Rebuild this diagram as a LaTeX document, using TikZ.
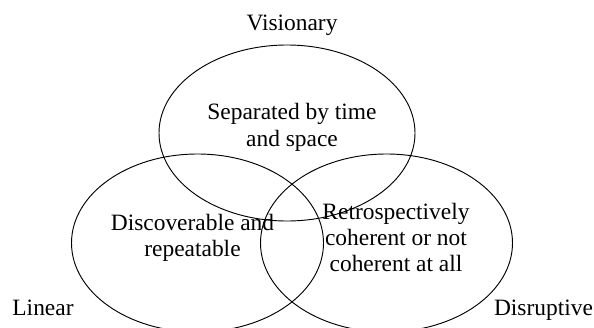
\documentclass[tikz,border=0pt]{standalone}
\usepackage{fontspec}
\setmainfont{Liberation Serif}
\usetikzlibrary{calc}

\begin{document}
\begin{tikzpicture}[x=0.03cm,y=0.03cm]
\tikzset{set/.style={draw=black,line width=0.8pt},
  txt/.style={inner sep=0pt,align=center,font=\fontsize{20}{22.5}\selectfont}}
\useasboundingbox (0,0) rectangle (594,327);
\clip (0,0) rectangle (594,327);

% the three sets
\coordinate (V) at (287,194);
\coordinate (L) at (197.5,84);
\coordinate (D) at (386.5,84);
\draw[set](V) ellipse (128 and 88);
\draw[set](L) ellipse (126 and 89);
\draw[set](D) ellipse (126 and 89);

% labels
\node[txt](visionary) at (292,302) {Visionary};
\node[txt,anchor=base](linear) at (43,11.5) {Linear};
\node[txt,anchor=base](disruptive) at (543.5,11.5) {Disruptive};

\node[txt](sep) at (292,199.5) {Separated by time\\and space};
\node[txt](disc) at (192.5,89) {Discoverable and\\repeatable};
\node[txt](retro) at (396,89.5) {Retrospectively\\coherent or not\\coherent at all};
\end{tikzpicture}
\end{document}
